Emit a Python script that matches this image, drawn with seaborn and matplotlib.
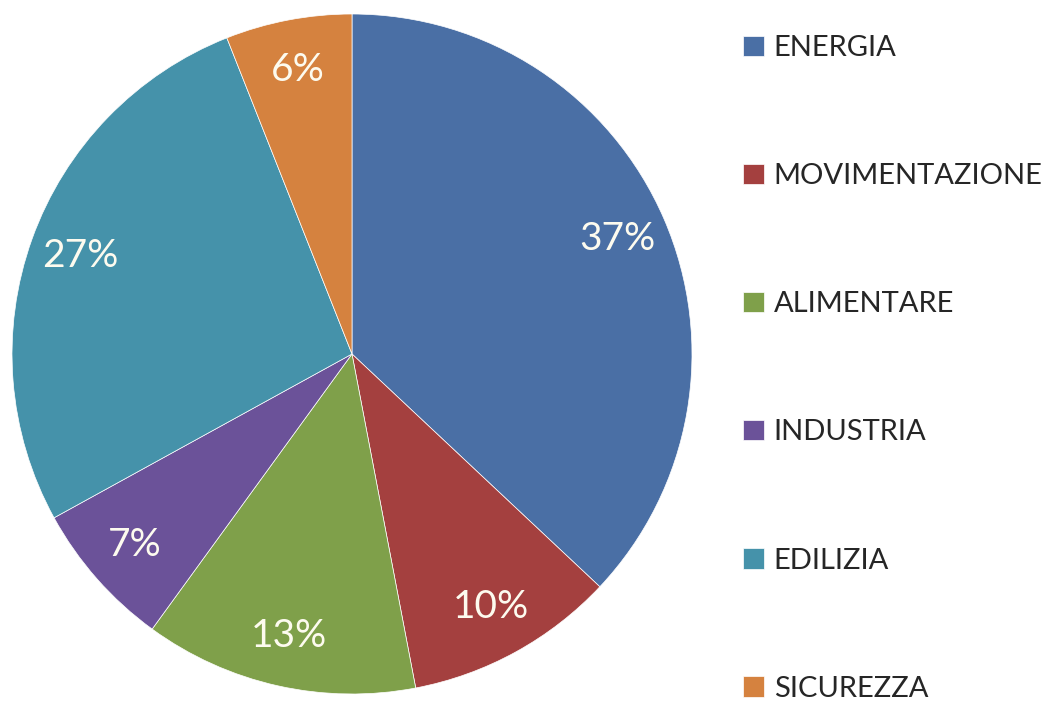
import seaborn as sns
import matplotlib.pyplot as plt

sectors = ["ENERGIA", "MOVIMENTAZIONE", "ALIMENTARE", "INDUSTRIA", "EDILIZIA", "SICUREZZA"]
shares = [37, 10, 13, 7, 27, 6]
colours = ["#4A6FA5", "#A4403F", "#7FA04A", "#6B5299", "#4592AA", "#D5823F"]

sns.set_theme(style="white")
plt.rcParams['font.family'] = ['Lato', 'DejaVu Sans']
palette = sns.color_palette(colours)

fig = plt.figure(figsize=(10.49, 7.01), dpi=100)
ax = fig.add_axes([12 / 1049, 7 / 701, 680 / 1049, 680 / 701])

wedges, texts, autotexts = ax.pie(
    shares, colors=palette, startangle=90, counterclock=False,
    autopct=lambda p: f"{p:.0f}%", pctdistance=0.85, radius=1,
    wedgeprops=dict(linewidth=0.5, edgecolor="white"),
    textprops=dict(color="#FDFBEF", fontsize=28),
)
ax.set_xlim(-1, 1)
ax.set_ylim(-1, 1)
ax.set_aspect("equal")

fig.legend(wedges, sectors, loc="upper left", bbox_to_anchor=(717 / 1049, 1 - 9 / 701),
           frameon=False, fontsize=21, labelspacing=3.5, handlelength=0.7,
           handleheight=0.7, handletextpad=0.34, labelcolor="#262626")

plt.savefig("out.png", dpi=100)
